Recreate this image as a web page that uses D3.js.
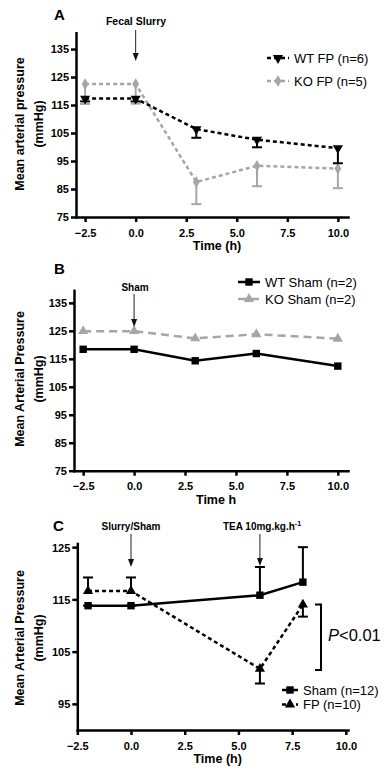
<!DOCTYPE html>
<html>
<head>
<meta charset="utf-8">
<script src="https://cdn.jsdelivr.net/npm/d3@7"></script>
<style>
  body { margin: 0; background: #fff; }
  svg { font-family: "Liberation Sans", Arial, sans-serif; }
  .tick text { font-weight: bold; font-size: 11px; fill: #000; }
</style>
</head>
<body>
<svg id="chart" width="388" height="770"></svg>
<script>
// Panel A: fecal slurry
const timeA = [-2.5, 0, 3, 6, 10];
const wtFP = [117.3, 117.3, 106.4, 102.6, 99.6];
const wtFPLow = [116.3, 116.3, 103.3, 99.9, 94.2];
const koFP = [122.5, 122.5, 87.5, 93.3, 92.3];
const koFPLow = [115.4, 115.5, 79.6, 86, 85.3];

// Panel B: sham
const timeB = [-2.5, 0, 3, 6, 10];
const wtSham = [118.4, 118.4, 114.3, 116.9, 112.4];
const koSham = [124.9, 124.9, 122.3, 123.8, 122.2];

// Panel C: TEA
const timeC = [-2, 0, 6, 8];
const shamC = [113.8, 113.8, 115.8, 118.3];
const shamCHigh = [113.8, 113.8, 121.2, 125];
const fpC = [116.6, 116.6, 101.7, 114];
const fpCErr = [119.2, 119.2, 98.9, 111.7];

const ticksAB = [75, 85, 95, 105, 115, 125, 135];
const ticksC = [95, 105, 115, 125];
const xTicks = [-2.5, 0, 2.5, 5, 7.5, 10];

const svg = d3.select('#chart');
const grey = '#a6a6a6';

function panel(opts) {
  const g = svg.append('g');
  const x = d3.scaleLinear().domain(opts.xDomain).range(opts.xRange);
  const y = d3.scaleLinear().domain(opts.yDomain).range(opts.yRange);

  const ax = g.append('g').attr('transform', `translate(0,${opts.yRange[0]})`)
    .call(d3.axisBottom(x).tickValues(xTicks).tickFormat(d3.format('.1f')).tickSize(5).tickSizeOuter(0));
  const ay = g.append('g').attr('transform', `translate(${opts.xRange[0]},0)`)
    .call(d3.axisLeft(y).tickValues(opts.yTicks).tickSize(5).tickSizeOuter(0));
  [ax, ay].forEach(a => {
    a.selectAll('path, line').attr('stroke', '#000').attr('stroke-width', 2.5);
    a.select('.domain').attr('stroke-linecap', 'square');
  });
  ax.selectAll('.tick text').attr('dy', '1.05em');
  ay.selectAll('.tick text').attr('dx', '1px').attr('dy', '0.35em');

  g.append('text').attr('x', (opts.xRange[0] + opts.xRange[1]) / 2 + 5).attr('y', opts.yRange[0] + 33)
    .attr('text-anchor', 'middle').attr('font-weight', 'bold').attr('font-size', 12.5).text(opts.xTitle);

  const yl = g.append('text').attr('transform', `translate(24,${opts.yMid}) rotate(-90)`)
    .attr('text-anchor', 'middle').attr('font-weight', 'bold').attr('font-size', 12.5);
  yl.append('tspan').attr('x', 0).attr('y', 0).text(opts.yTitle);
  yl.append('tspan').attr('x', 0).attr('y', 19).text('(mmHg)');

  g.append('text').attr('x', opts.letterX).attr('y', opts.letterY).attr('font-weight', 'bold')
    .attr('font-size', 15).text(opts.letter);
  return { g, x, y };
}

function arrow(g, x, y1, y2) {
  g.append('line').attr('x1', x).attr('x2', x).attr('y1', y1).attr('y2', y2 - 4)
    .attr('stroke', '#222').attr('stroke-width', 1);
  g.append('path').attr('d', `M${x - 3},${y2 - 8}L${x + 3},${y2 - 8}L${x},${y2}Z`).attr('fill', '#111');
}

function series(p, xs, ys, o) {
  const pts = xs.map((t, i) => [p.x(t), p.y(ys[i])]);
  if (o.err) {
    xs.forEach((t, i) => {
      const cx = p.x(t), y0 = p.y(ys[i]), y1 = p.y(o.err[i]);
      p.g.append('line').attr('x1', cx).attr('x2', cx).attr('y1', y0).attr('y2', y1)
        .attr('stroke', o.color).attr('stroke-width', 2);
      p.g.append('line').attr('x1', cx - 5).attr('x2', cx + 5).attr('y1', y1).attr('y2', y1)
        .attr('stroke', o.color).attr('stroke-width', 2);
    });
  }
  p.g.append('path').attr('d', d3.line()(pts)).attr('fill', 'none').attr('stroke', o.color)
    .attr('stroke-width', o.width || 2.5).attr('stroke-dasharray', o.dash || null);
  pts.forEach(pt => {
    p.g.append('path').attr('d', d3.symbol(o.symbol, o.size)())
      .attr('transform', `translate(${pt[0]},${pt[1]}) rotate(${o.rotate || 0})`).attr('fill', o.color);
  });
}

function legendItem(g, x1, x2, y, o, label, fs) {
  g.append('line').attr('x1', x1).attr('x2', x2).attr('y1', y).attr('y2', y).attr('stroke', o.color)
    .attr('stroke-width', o.width || 2.5).attr('stroke-dasharray', o.dash || null);
  g.append('path').attr('d', d3.symbol(o.symbol, o.size)())
    .attr('transform', `translate(${(x1 + x2) / 2},${y}) rotate(${o.rotate || 0})`).attr('fill', o.color);
  g.append('text').attr('x', x2 + 5).attr('y', y).attr('dy', '0.35em').attr('font-size', fs).text(label);
}

// ---- A ----
const pA = panel({ xDomain: [-2.95, 10.5], xRange: [76, 348], yDomain: [75, 140.8], yRange: [217, 32.8],
  yTicks: ticksAB, xTitle: 'Time (h)', yTitle: 'Mean arterial pressure', yMid: 124,
  letter: 'A', letterX: 54, letterY: 20 });
const styWT = { color: '#000', dash: '4,3', symbol: d3.symbolTriangle, size: 45, rotate: 180, err: wtFPLow };
const styKO = { color: grey, dash: '4,3', symbol: d3.symbolDiamond, size: 40, err: koFPLow };
series(pA, timeA, koFP, styKO);
series(pA, timeA, wtFP, styWT);
pA.g.append('text').attr('x', 136).attr('y', 25).attr('text-anchor', 'middle').attr('font-weight', 'bold')
  .attr('font-size', 10.5).text('Fecal Slurry');
arrow(pA.g, pA.x(0), 30, 61);
legendItem(pA.g, 267, 289, 58, { ...styWT, err: null }, 'WT FP (n=6)', 13);
legendItem(pA.g, 267, 289, 81, { ...styKO, err: null }, 'KO FP (n=5)', 13);

// ---- B ----
const pB = panel({ xDomain: [-2.95, 10.5], xRange: [74, 348], yDomain: [75, 139.5], yRange: [470.7, 290.3],
  yTicks: ticksAB, xTitle: 'Time h', yTitle: 'Mean Arterial Pressure', yMid: 379,
  letter: 'B', letterX: 54, letterY: 274 });
const styKOS = { color: grey, dash: '8,5', symbol: d3.symbolTriangle, size: 45 };
const styWTS = { color: '#000', symbol: d3.symbolSquare, size: 55 };
series(pB, timeB, koSham, styKOS);
series(pB, timeB, wtSham, styWTS);
pB.g.append('text').attr('x', 135).attr('y', 291).attr('text-anchor', 'middle').attr('font-weight', 'bold')
  .attr('font-size', 10).text('Sham');
arrow(pB.g, pB.x(0), 294, 327);
legendItem(pB.g, 238, 260, 282, styWTS, 'WT Sham (n=2)', 13);
legendItem(pB.g, 238, 260, 299, styKOS, 'KO Sham (n=2)', 13);

// ---- C ----
const pC = panel({ xDomain: [-2.5, 10.1], xRange: [77.3, 348], yDomain: [90, 125.7], yRange: [730, 543.5],
  yTicks: ticksC, xTitle: 'Time (h)', yTitle: 'Mean Arterial Pressure', yMid: 638,
  letter: 'C', letterX: 53, letterY: 531 });
const stySham = { color: '#000', symbol: d3.symbolSquare, size: 55, err: shamCHigh };
const styFP = { color: '#000', dash: '4,3', symbol: d3.symbolTriangle, size: 45, err: fpCErr };
series(pC, timeC, shamC, stySham);
series(pC, timeC, fpC, styFP);
pC.g.append('text').attr('x', 131).attr('y', 530).attr('text-anchor', 'middle').attr('font-weight', 'bold')
  .attr('font-size', 10).text('Slurry/Sham');
arrow(pC.g, pC.x(0), 534, 567);
const tea = pC.g.append('text').attr('x', 262).attr('y', 530).attr('text-anchor', 'middle')
  .attr('font-weight', 'bold').attr('font-size', 10);
tea.append('tspan').text('TEA 10mg.kg.h');
tea.append('tspan').attr('font-size', 7).attr('dy', -4).text('-1');
arrow(pC.g, pC.x(6), 534, 566);
// significance bracket
const bx = 321, by1 = pC.y(114), by2 = pC.y(101.5);
pC.g.append('path').attr('d', `M${bx - 6},${by1}H${bx}V${by2}H${bx - 6}`).attr('fill', 'none')
  .attr('stroke', '#000').attr('stroke-width', 2);
const pt = pC.g.append('text').attr('x', 328).attr('y', 641).attr('font-size', 16.5);
pt.append('tspan').attr('font-style', 'italic').text('P');
pt.append('tspan').text('<0.01');
legendItem(pC.g, 282, 298, 690, { ...stySham, err: null }, 'Sham (n=12)', 13);
legendItem(pC.g, 282, 298, 704.5, { ...styFP, err: null }, 'FP (n=10)', 13);
</script>
</body>
</html>
